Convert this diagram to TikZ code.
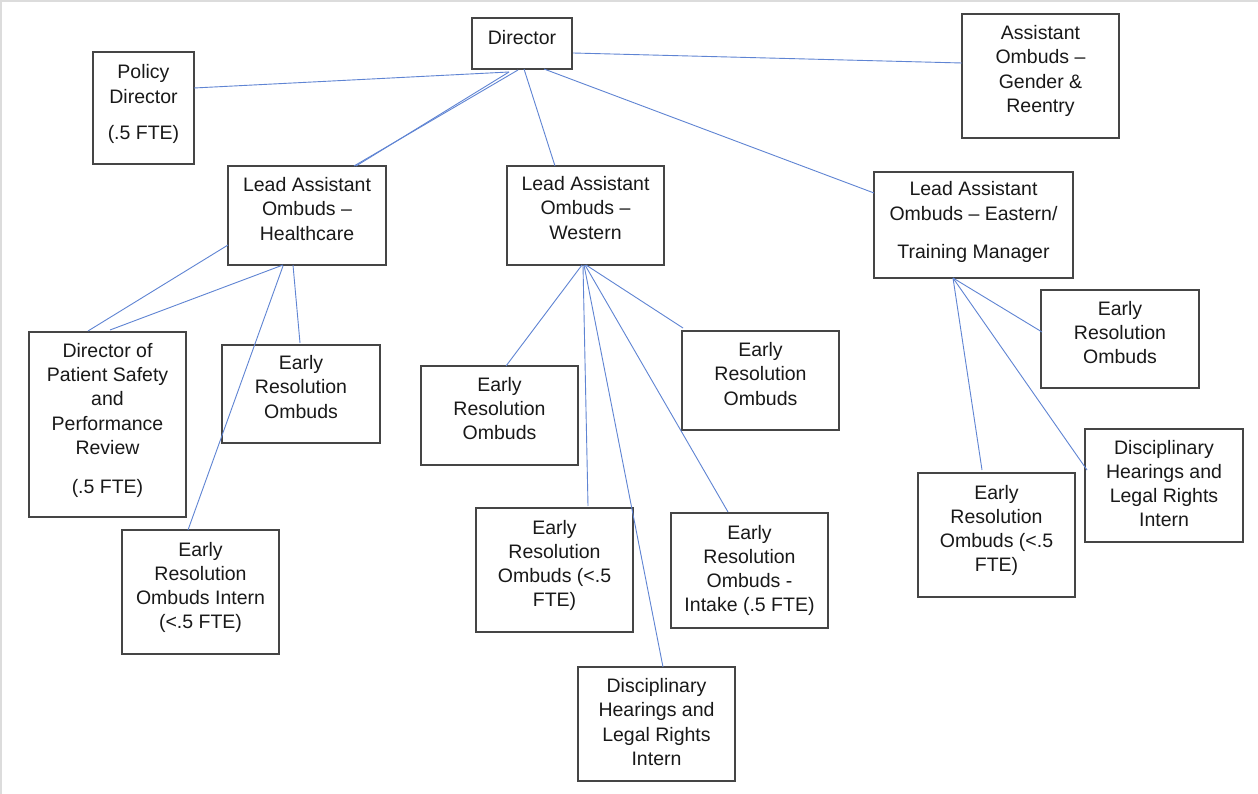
\documentclass[tikz,border=0pt]{standalone}
\usepackage{fontspec}
\setmainfont{Liberation Sans}
\usetikzlibrary{calc}
\definecolor{conncol}{HTML}{5F84D3}
\definecolor{boxcol}{HTML}{454545}
\definecolor{framecol}{HTML}{DCDCDC}
\tikzset{
  orgbox/.style={draw=boxcol, line width=1.3pt, rectangle, inner sep=0pt, outer sep=0pt},
  orglbl/.style={align=center, inner sep=0pt, outer sep=0pt, font=\fontsize{19.5}{24.2}\selectfont, text=black!90},
  conn/.style={draw=conncol, line width=0.9pt},
}
% #1 name, #2 x1, #3 y1, #4 x2, #5 y2, #6 text centre y, #7 text
\newcommand\obox[7]{%
  \node[orgbox, minimum width={#4-#2}, minimum height={#5-#3}] (#1) at ({(#2+#4)/2},{(#3+#5)/2}) {};
  \node[orglbl] (#1t) at ({(#2+#4)/2},#6) {#7};
}
\begin{document}
\begin{tikzpicture}[x=1pt,y=-1pt]
\useasboundingbox (0,0) rectangle (1258,794);
\fill[white] (0,0) rectangle (1258,794);
\fill[framecol] (0,0) rectangle (1258,2);
\fill[framecol] (0,0) rectangle (2,794);

% boxes
\obox{dir}{472}{18}{572}{69}{37.5}{Director}
\obox{pol}{93}{52}{194}{164}{104}{Policy\\Director\\[12pt](.5 FTE)}
\obox{asst}{962}{14}{1119}{138}{71}{Assistant\\Ombuds –\\Gender \&\\Reentry}
\obox{lh}{228}{166}{386}{265}{209}{Lead Assistant\\Ombuds –\\Healthcare}
\obox{lw}{507}{166}{664}{265}{208}{Lead Assistant\\Ombuds –\\Western}
\obox{le}{874}{172}{1073}{278}{222}{Lead Assistant\\Ombuds – Eastern/\\[14pt]Training Manager}
\obox{dps}{29}{332}{186}{517}{420.5}{Director of\\Patient Safety\\and\\Performance\\Review\\[15pt](.5 FTE)}
\obox{ehc}{222}{345}{380}{443}{387}{Early\\Resolution\\Ombuds}
\obox{eint}{122}{530}{279}{654}{587.5}{Early\\Resolution\\Ombuds Intern\\(<.5 FTE)}
\obox{ewl}{421}{366}{578}{465}{408.5}{Early\\Resolution\\Ombuds}
\obox{ewr}{682}{331}{839}{430}{374}{Early\\Resolution\\Ombuds}
\obox{ewf}{476}{508}{633}{632}{565.5}{Early\\Resolution\\Ombuds (<.5\\FTE)}
\obox{ewi}{671}{513}{828}{628}{570.5}{Early\\Resolution\\Ombuds -\\Intake (.5 FTE)}
\obox{dw}{578}{667}{735}{781}{722}{Disciplinary\\Hearings and\\Legal Rights\\Intern}
\obox{ee}{1041}{290}{1199}{388}{332.5}{Early\\Resolution\\Ombuds}
\obox{ed}{1085}{429}{1243}{542}{483.5}{Disciplinary\\Hearings and\\Legal Rights\\Intern}
\obox{ef}{918}{473}{1075}{597}{530.5}{Early\\Resolution\\Ombuds (<.5\\FTE)}

% connectors from Director
\draw[conn] ($(dir.north west)+(37,54)$) -- ($(pol.north east)+(0,36)$);
\draw[conn] ($(dir.north west)+(37,54)$) -- ($(lh.north west)+(128,0)$);
\draw[conn] ($(dir.north west)+(46,52)$) -- ($(lh.north west)+(126,0)$);
\draw[conn] ($(dir.north west)+(52,51)$) -- ($(lw.north west)+(48,0)$);
\draw[conn] ($(dir.north west)+(72,51)$) -- ($(le.north west)+(0,21)$);
\draw[conn] ($(dir.north east)+(1,35)$) -- ($(asst.north west)+(0,49)$);

% connectors from Healthcare lead
\draw[conn] ($(lh.north west)+(0,79)$) -- ($(dps.north west)+(59,-1)$);
\draw[conn] ($(lh.south west)+(55,0)$) -- ($(dps.north west)+(81,-2)$);
\draw[conn] ($(lh.south west)+(55,1)$) -- ($(eint.north west)+(66,0)$);
\draw[conn] ($(lh.south west)+(65,0)$) -- ($(ehc.north west)+(78,-2)$);

% connectors from Western lead
\draw[conn] ($(lw.south west)+(75,0)$) -- ($(ewl.north west)+(85,0)$);
\draw[conn] ($(lw.south west)+(76,0)$) -- ($(ewf.north west)+(112,-2)$);
\draw[conn] ($(lw.south west)+(77,0)$) -- ($(dw.north west)+(85,0)$);
\draw[conn] ($(lw.south west)+(78,0)$) -- ($(ewi.north west)+(57,-1)$);
\draw[conn] ($(lw.south west)+(79,0)$) -- ($(ewr.north west)+(1,-3)$);

% connectors from Eastern lead
\draw[conn] ($(le.south west)+(79,0)$) -- ($(ee.north west)+(1,42)$);
\draw[conn] ($(le.south west)+(79,0)$) -- ($(ed.north west)+(2,41)$);
\draw[conn] ($(le.south west)+(79,0)$) -- ($(ef.north west)+(64,-3)$);
\end{tikzpicture}
\end{document}
